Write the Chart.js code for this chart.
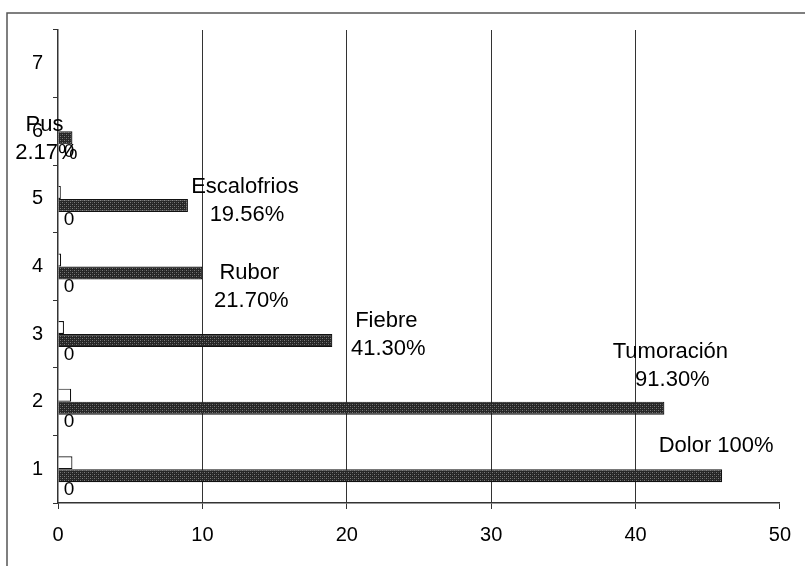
<!DOCTYPE html>
<html>
<head>
<meta charset="utf-8">
<script src="https://cdn.jsdelivr.net/npm/chart.js@4/dist/chart.umd.min.js"></script>
<style>
  html, body { margin: 0; padding: 0; background: #fff; }
  #wrap { width: 805px; height: 566px; position: relative; }
</style>
</head>
<body>
<div id="wrap"><canvas id="c" width="805" height="566"></canvas></div>
<script>
// Categories (1 at the bottom, 7 at the top)
const categorias = ['1', '2', '3', '4', '5', '6', '7'];
// Number of cases per sign
const casos = [46, 42, 19, 10, 9, 1, null];
// Same values as a fraction of the total (46)
const fraccion = [1, 0.913, 0.413, 0.217, 0.1956, 0.0217, null];
// Zero series, labelled "0"
const ceros = [0, 0, 0, 0, 0, 0, null];
// Empty leading series (keeps its slot in each group)
const vacia = [null, null, null, null, null, null, null];
// Names and percentages written next to the case bars
const signos = ['Dolor', 'Tumoración', 'Fiebre', 'Rubor', 'Escalofrios', 'Pus', null];
const porcentajes = ['100%', '91.30%', '41.30%', '21.70%', '19.56%', '2.17%', null];
// X axis ticks
const ticksX = [0, 10, 20, 30, 40, 50];

// Placement of each name/percentage block relative to the bar end
const colocacion = [
  { dx: -6, dy: -30, unaLinea: true },
  { dx: 6, dy: -56 },
  { dx: 54, dy: -20 },
  { dx: 47, dy: 0 },
  { dx: 57, dy: -18 },
  { dx: -28, dy: -13 }
];

// Dark dotted fill for the case bars
function tramaOscura() {
  const p = document.createElement('canvas');
  p.width = 4; p.height = 4;
  const g = p.getContext('2d');
  g.fillStyle = '#262626';
  g.fillRect(0, 0, 4, 4);
  g.fillStyle = '#7a7a7a';
  g.fillRect(0, 0, 1, 1);
  g.fillRect(2, 2, 1, 1);
  g.fillStyle = '#4a4a4a';
  g.fillRect(2, 0, 1, 1);
  g.fillRect(0, 2, 1, 1);
  return g.createPattern(p, 'repeat');
}

const FUENTE = "'Liberation Sans', Arial, sans-serif";

const marco = {
  id: 'marco',
  beforeDraw(chart) {
    const ctx = chart.ctx;
    ctx.save();
    ctx.fillStyle = '#fff';
    ctx.fillRect(0, 0, chart.width, chart.height);
    ctx.strokeStyle = '#555';
    ctx.lineWidth = 1.5;
    ctx.beginPath();
    ctx.moveTo(7, chart.height + 5);
    ctx.lineTo(7, 13);
    ctx.lineTo(chart.width + 5, 13);
    ctx.stroke();
    ctx.restore();
  }
};

const etiquetas = {
  id: 'etiquetas',
  afterDatasetsDraw(chart) {
    const ctx = chart.ctx;
    ctx.save();
    ctx.fillStyle = '#000';
    ctx.textBaseline = 'middle';
    ctx.textAlign = 'center';
    // "0" beside each zero bar
    const metaCeros = chart.getDatasetMeta(3);
    ctx.font = '19px ' + FUENTE;
    metaCeros.data.forEach((bar, i) => {
      if (ceros[i] === null) return;
      ctx.fillText(String(ceros[i]), bar.x + 11, bar.y + 1);
    });
    // Name and percentage next to each case bar
    const metaCasos = chart.getDatasetMeta(2);
    ctx.font = '22px ' + FUENTE;
    metaCasos.data.forEach((bar, i) => {
      if (!signos[i]) return;
      const c = colocacion[i];
      const x = bar.x + c.dx;
      const y = bar.y + c.dy;
      if (c.unaLinea) {
        ctx.fillText(signos[i] + ' ' + porcentajes[i], x, y);
      } else {
        ctx.fillText(signos[i], x, y);
        ctx.fillText(porcentajes[i], x + 2, y + 28);
      }
    });
    ctx.restore();
  }
};

new Chart(document.getElementById('c'), {
  type: 'bar',
  data: {
    labels: categorias,
    datasets: [
      { label: 'Vacía', data: vacia, backgroundColor: '#fff', borderColor: '#000', borderWidth: 1 },
      { label: 'Fracción', data: fraccion, backgroundColor: '#fff', borderColor: '#111', borderWidth: 1.2 },
      { label: 'Casos', data: casos, backgroundColor: tramaOscura(), borderColor: '#111', borderWidth: 1.2 },
      { label: 'Ceros', data: ceros, backgroundColor: 'rgba(0,0,0,0)', borderColor: 'rgba(0,0,0,0)', borderWidth: 0 }
    ]
  },
  options: {
    indexAxis: 'y',
    responsive: false,
    animation: false,
    devicePixelRatio: 1,
    categoryPercentage: 0.77,
    barPercentage: 1,
    layout: { padding: { left: 0, top: 30, right: 24, bottom: 0 } },
    plugins: { legend: { display: false }, tooltip: { enabled: false } },
    scales: {
      x: {
        type: 'linear',
        min: 0,
        max: 50,
        afterBuildTicks(scale) { scale.ticks = ticksX.map(v => ({ value: v })); },
        afterFit(scale) { scale.height = 63; },
        grid: {
          color: ctx => (ctx.tick && (ctx.tick.value === 0 || ctx.tick.value === 50)) ? 'rgba(0,0,0,0)' : '#333',
          tickColor: '#333',
          lineWidth: 1,
          drawTicks: true,
          tickLength: 6
        },
        border: { display: true, color: '#333', width: 1.5 },
        ticks: { color: '#000', font: { family: FUENTE, size: 20 }, padding: 14, maxRotation: 0 }
      },
      y: {
        type: 'category',
        reverse: true,
        afterFit(scale) { scale.width = 58; },
        grid: {
          drawOnChartArea: false,
          drawTicks: true,
          tickLength: 5,
          tickColor: '#333',
          offset: true
        },
        border: { display: true, color: '#333', width: 1.5 },
        ticks: { color: '#000', font: { family: FUENTE, size: 20 }, padding: 10 }
      }
    }
  },
  plugins: [marco, etiquetas]
});
</script>
</body>
</html>
